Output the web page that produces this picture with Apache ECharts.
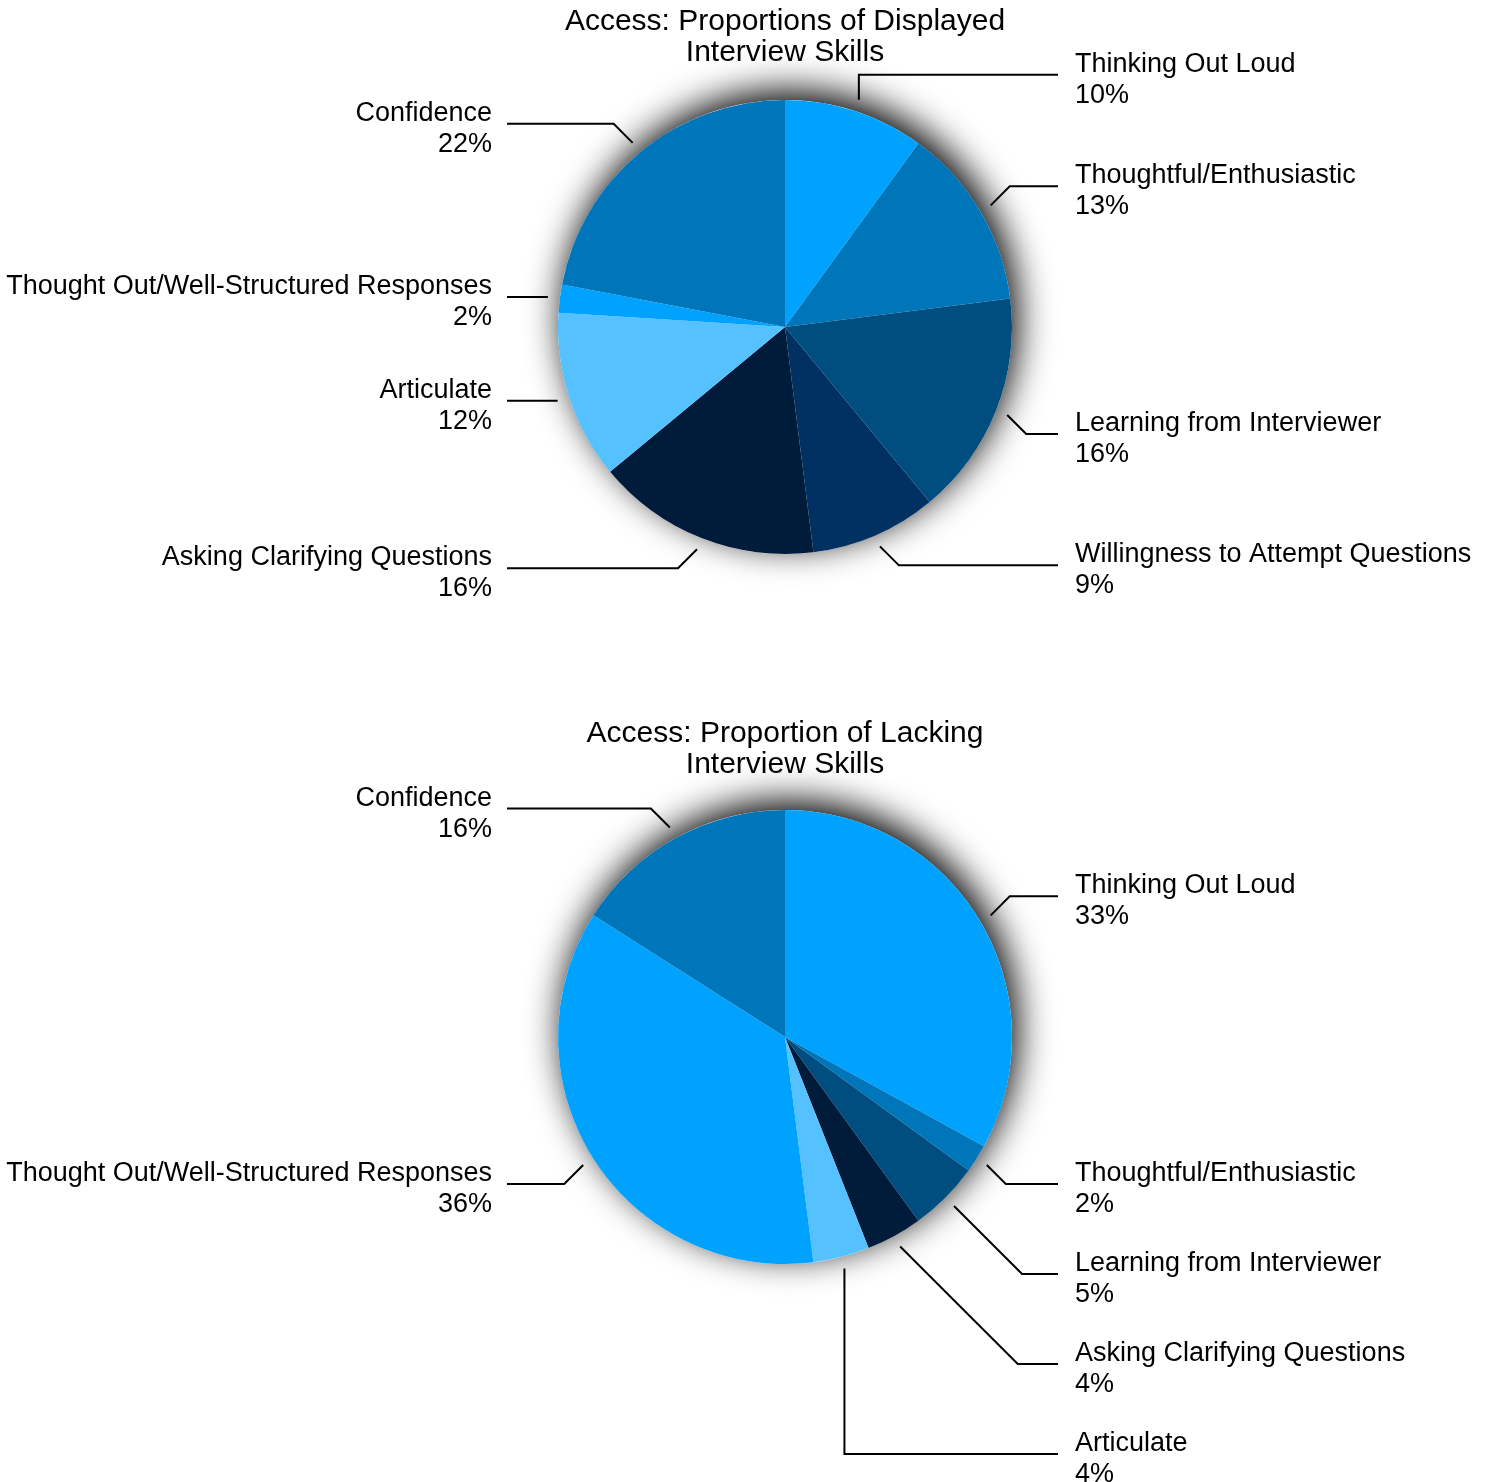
<!DOCTYPE html>
<html>
<head>
<meta charset="utf-8">
<title>Access: Interview Skills</title>
<script src="https://cdn.jsdelivr.net/npm/echarts@6/dist/echarts.min.js"></script>
<style>
  html, body { margin: 0; padding: 0; background: #ffffff; }
  #chart { width: 1489px; height: 1482px; }
</style>
</head>
<body>
<div id="chart"></div>
<script>
// ---- Data -------------------------------------------------------------
const displayedSkills = [
  'Thinking Out Loud',
  'Thoughtful/Enthusiastic',
  'Learning from Interviewer',
  'Willingness to Attempt Questions',
  'Asking Clarifying Questions',
  'Articulate',
  'Thought Out/Well-Structured Responses',
  'Confidence'
];
const displayedShares = [10, 13, 16, 9, 16, 12, 2, 22];

const lackingSkills = [
  'Thinking Out Loud',
  'Thoughtful/Enthusiastic',
  'Learning from Interviewer',
  'Asking Clarifying Questions',
  'Articulate',
  'Thought Out/Well-Structured Responses',
  'Confidence'
];
const lackingShares = [33, 2, 5, 4, 4, 36, 16];

const chartTitles = [
  'Access: Proportions of Displayed\nInterview Skills',
  'Access: Proportion of Lacking\nInterview Skills'
];

// One colour per skill, shared by both pies
const skillColors = {
  'Thinking Out Loud': '#00a2ff',
  'Thoughtful/Enthusiastic': '#0076ba',
  'Learning from Interviewer': '#004d80',
  'Willingness to Attempt Questions': '#003162',
  'Asking Clarifying Questions': '#011b3a',
  'Articulate': '#56c1ff',
  'Thought Out/Well-Structured Responses': '#00a2ff',
  'Confidence': '#0076ba'
};

// ---- Layout -----------------------------------------------------------
const FONT = "'Liberation Sans', Arial, Helvetica, sans-serif";
const PIE_RADIUS = 227;
const TOP_CENTER = [785, 327];
const BOTTOM_CENTER = [785, 1037];
const LEADER_START = 12;      // gap between pie edge and leader start
const STUB = 19;              // vertical rise of the diagonal stub
const LABEL_GAP = 90;         // minimum vertical distance between labels on one side

// Plan the elbow leader lines: a short diagonal (or vertical / flat) stub
// leaving the slice middle, then a horizontal run to a fixed label column.
function planLeaders(values, center, r) {
  const total = values.reduce((a, b) => a + b, 0);
  const [cx, cy] = center;
  const rs = r + LEADER_START;
  let acc = 0;
  const plans = values.map((v, i) => {
    const a = (acc + v / 2) / total * Math.PI * 2;
    acc += v;
    const sx = cx + rs * Math.sin(a);
    const sy = cy - rs * Math.cos(a);
    const deg = a * 180 / Math.PI;
    const offVert = Math.min(deg, Math.abs(180 - deg), 360 - deg);
    const offHoriz = Math.abs(90 - (deg % 180));
    const up = Math.cos(a) > 0;
    const right = Math.sin(a) >= 0;
    let mode, ty;
    if (offVert < 20) { mode = 'vertical'; ty = sy + (up ? -25 : 25); }
    else if (offHoriz < 20) { mode = 'flat'; ty = sy; }
    else { mode = 'diagonal'; ty = sy + (up ? -STUB : STUB); }
    return { i, sx, sy, right, mode, ty };
  });

  [true, false].forEach(side => {
    const group = plans.filter(p => p.right === side).sort((a, b) => a.ty - b.ty);
    for (let k = 1; k < group.length; k++) {
      if (group[k].ty < group[k - 1].ty + LABEL_GAP) {
        group[k].ty = group[k - 1].ty + LABEL_GAP;
        if (group[k].mode === 'flat') group[k].mode = 'diagonal';
      }
    }
  });

  plans.forEach(p => {
    const dir = p.right ? 1 : -1;
    const endX = p.right ? cx + 273 : cx - 278;
    let elbow;
    if (p.mode === 'vertical') elbow = [p.sx, p.ty];
    else if (p.mode === 'flat') elbow = [(p.sx + endX) / 2, p.sy];
    else elbow = [p.sx + dir * Math.abs(p.ty - p.sy), p.ty];
    p.points = [[p.sx, p.sy], elbow, [endX, p.ty]];
    p.labelX = p.right ? cx + 290 : cx - 293;
    p.labelY = p.ty + 5;
  });
  return plans;
}

function leaderLabelLayout(plans) {
  return function (params) {
    const p = plans[params.dataIndex];
    return {
      x: p.labelX,
      y: p.labelY,
      align: p.right ? 'left' : 'right',
      verticalAlign: 'middle',
      labelLinePoints: p.points
    };
  };
}

// White disc carrying the soft drop shadow behind each pie
function shadowDisc(center) {
  return {
    type: 'pie',
    center: center,
    radius: PIE_RADIUS,
    silent: true,
    z: 1,
    label: { show: false },
    labelLine: { show: false },
    emphasis: { disabled: true },
    itemStyle: {
      color: '#ffffff',
      shadowBlur: 36,
      shadowColor: 'rgba(0,0,0,1)',
      shadowOffsetX: 5,
      shadowOffsetY: -9
    },
    data: [{ value: 1, name: '' }]
  };
}

function skillPie(names, values, center) {
  const plans = planLeaders(values, center, PIE_RADIUS);
  return {
    type: 'pie',
    center: center,
    radius: PIE_RADIUS,
    startAngle: 90,
    clockwise: true,
    z: 2,
    avoidLabelOverlap: false,
    emphasis: { disabled: true },
    itemStyle: { borderWidth: 0 },
    label: {
      show: true,
      position: 'outside',
      formatter: '{b}\n{c}%',
      fontFamily: FONT,
      fontSize: 27,
      lineHeight: 31,
      color: '#000000'
    },
    labelLine: {
      show: true,
      length: 15,
      length2: 15,
      lineStyle: { color: '#000000', width: 2 }
    },
    labelLayout: leaderLabelLayout(plans),
    data: names.map((n, i) => ({
      name: n,
      value: values[i],
      itemStyle: { color: skillColors[n] }
    }))
  };
}

const titleStyle = { fontFamily: FONT, fontSize: 30, lineHeight: 31, fontWeight: 'normal', color: '#000000' };

const chart = echarts.init(document.getElementById('chart'), null, { renderer: 'canvas' });
chart.setOption({
  backgroundColor: '#ffffff',
  animation: false,
  title: [
    {
      text: chartTitles[0],
      left: TOP_CENTER[0],
      top: 6,
      padding: 0,
      textAlign: 'center',
      textStyle: titleStyle
    },
    {
      text: chartTitles[1],
      left: BOTTOM_CENTER[0],
      top: 718,
      padding: 0,
      textAlign: 'center',
      textStyle: titleStyle
    }
  ],
  series: [
    shadowDisc(TOP_CENTER),
    shadowDisc(BOTTOM_CENTER),
    skillPie(displayedSkills, displayedShares, TOP_CENTER),
    skillPie(lackingSkills, lackingShares, BOTTOM_CENTER)
  ]
});
</script>
</body>
</html>
